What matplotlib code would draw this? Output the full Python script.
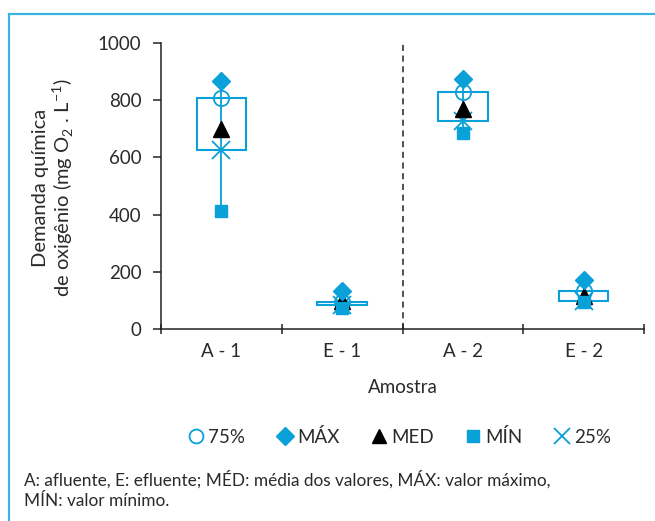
import matplotlib
matplotlib.use("Agg")
import matplotlib.pyplot as plt
from matplotlib.patches import Rectangle
from matplotlib.lines import Line2D

plt.rcParams['font.family'] = ['Lato', 'DejaVu Sans']
plt.rcParams['mathtext.fontset'] = 'custom'
plt.rcParams['mathtext.rm'] = 'Lato'

# Data: DQO (mg O2/L) per sample
samples = ["A - 1", "E - 1", "A - 2", "E - 2"]
q75 = [807, 95, 830, 133]
vmax = [868, 133, 875, 170]
vmed = [698, 98, 768, 115]
vmin = [412, 75, 685, 95]
q25 = [625, 84, 728, 97]

blue = "#0aa0d8"
txt = "#2a2a2a"

fig = plt.figure(figsize=(6.55, 5.21), dpi=100)
ax = fig.add_axes([161/655, 1-329/521, (644-161)/655, (329-43)/521])

pos = [0.5, 1.5, 2.5, 3.5]
w = 0.41
for x, lo, hi, mn, mx in zip(pos, q25, q75, vmin, vmax):
    ax.add_patch(Rectangle((x - w/2, lo), w, hi - lo, fill=False,
                           edgecolor=blue, lw=1.5, zorder=2))
    ax.plot([x, x], [mn, mx], color=blue, lw=1.3, zorder=2)

ax.plot(pos, q75, 'o', mfc='none', mec=blue, mew=1.3, ms=11, ls='none', zorder=3)
ax.plot(pos, q25, 'x', color=blue, mew=1.3, ms=13, ls='none', zorder=3)
ax.plot(pos, vmed, '^', color='black', ms=11, ls='none', zorder=4)
ax.plot(pos, vmin, 's', color=blue, ms=8.5, ls='none', zorder=5)
ax.plot(pos, vmax, 'D', color=blue, ms=9.5, ls='none', zorder=5)

ax.axvline(2, ymin=0, ymax=1, color='#222222', lw=1.1, ls=(0, (4, 3)), zorder=1)

ax.set_xlim(0, 4)
ax.set_ylim(0, 1000)
ax.set_yticks([0, 200, 400, 600, 800, 1000])
ax.set_xticks([0, 1, 2, 3, 4])
ax.set_xticklabels([])
ax.set_xticks(pos, minor=True)
ax.set_xticklabels(samples, minor=True)
ax.tick_params(axis='x', which='minor', length=0, pad=10, labelsize=13.5, colors=txt)
ax.tick_params(axis='x', which='major', length=7, width=1.1, color='#222222', direction='inout')
ax.tick_params(axis='y', length=6, width=1.1, pad=8, labelsize=13.5, colors=txt, color='#222222')
for s in ['top', 'right']:
    ax.spines[s].set_visible(False)
for s in ['left', 'bottom']:
    ax.spines[s].set_color('#222222')
    ax.spines[s].set_linewidth(1.1)

ax.set_xlabel("Amostra", fontsize=13.5, color=txt, labelpad=14)
fig.text(54/655, 1-188/521, "Demanda química\nde oxigênio (mg O$_2$ . L$^{-1}$)",
         rotation=90, ha='center', va='center', fontsize=14.5, color=txt,
         linespacing=1.1)

handles = [
    Line2D([], [], marker='o', mfc='none', mec=blue, mew=1.3, ms=10, ls='none'),
    Line2D([], [], marker='D', color=blue, ms=9, ls='none'),
    Line2D([], [], marker='^', color='black', ms=10, ls='none'),
    Line2D([], [], marker='s', color=blue, ms=8, ls='none'),
    Line2D([], [], marker='x', color=blue, mew=1.3, ms=12, ls='none'),
]
labels = ["75%", "MÁX", "MED", "MÍN", "25%"]
fig.legend(handles, labels, loc='center', bbox_to_anchor=(398/655, 1-437/521),
           ncol=5, frameon=False, fontsize=13.5, handletextpad=0.05,
           columnspacing=1.5, handlelength=1.2, labelcolor=txt)

fig.text(24/655, 1-479/521,
         "A: afluente, E: efluente; MÉD: média dos valores, MÁX: valor máximo,",
         fontsize=12.4, color=txt, va='center')
fig.text(24/655, 1-501/521, "MÍN: valor mínimo.", fontsize=12.4, color=txt, va='center')

# outer frame
fig.add_artist(Rectangle((9/655, -0.2), 1.2, 1 - 14/521 + 0.2, transform=fig.transFigure,
                         fill=False, edgecolor='#3db2e0', lw=1.6, clip_on=False))

fig.savefig("out.png", dpi=100)
